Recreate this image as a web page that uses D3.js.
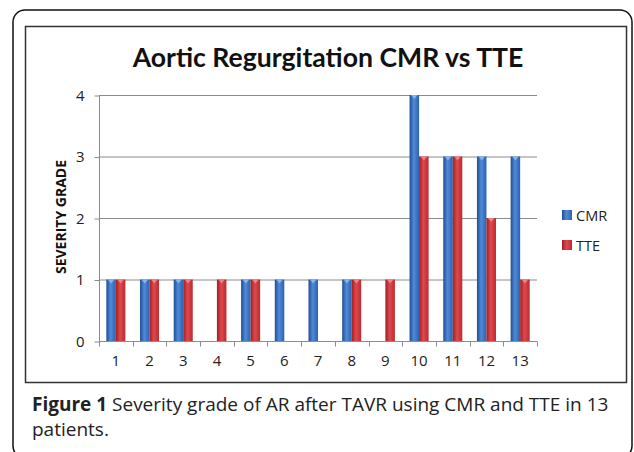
<!DOCTYPE html>
<html><head><meta charset="utf-8">
<script src="https://cdn.jsdelivr.net/npm/d3@7"></script>
<style>body{margin:0;background:#fff}svg{display:block}</style>
</head><body>
<svg id="c" width="634" height="452"></svg>
<script>
const categories = ["1","2","3","4","5","6","7","8","9","10","11","12","13"];
const seriesNames = ["CMR","TTE"];
const cmrValues = [1,1,1,0,1,1,1,1,0,4,3,3,3];
const tteValues = [1,1,1,1,1,0,0,1,1,3,3,2,1];
const yTicks = [0,1,2,3,4];
const titleText = "Aortic Regurgitation CMR vs TTE";
const yTitle = "SEVERITY GRADE";

const svg = d3.select("#c");
const defs = svg.append("defs");
const colors = {CMR:["#1f4f94","#4f8ad8","#2b62b0"], TTE:["#9e1f24","#e0484c","#b92c31"]};
seriesNames.forEach(s=>{
  const g = defs.append("linearGradient").attr("id","g"+s).attr("x1","0").attr("x2","1").attr("y1","0").attr("y2","0");
  g.append("stop").attr("offset","0%").attr("stop-color",colors[s][0]);
  g.append("stop").attr("offset","45%").attr("stop-color",colors[s][1]);
  g.append("stop").attr("offset","100%").attr("stop-color",colors[s][2]);
});

// frames
svg.append("rect").attr("x",13).attr("y",10).attr("width",619).attr("height",448).attr("rx",12)
  .attr("fill","none").attr("stroke","#111").attr("stroke-width",1.5);
svg.append("rect").attr("x",25.5).attr("y",26.5).attr("width",601).attr("height",356)
  .attr("fill","#fff").attr("stroke","#333").attr("stroke-width",1.5);

svg.append("text").attr("x",328).attr("y",67).attr("text-anchor","middle")
  .attr("font-family","Lato, 'Open Sans', sans-serif").attr("font-weight","bold").attr("font-size",26.6)
  .attr("fill","#111").text(titleText);

const x = d3.scaleBand().domain(categories).range([99,537]).paddingInner(0).paddingOuter(0);
const x1 = d3.scaleBand().domain(seriesNames).range([0,x.bandwidth()]).paddingInner(0).paddingOuter(0.77);
const y = d3.scaleLinear().domain([0,4]).range([341,95]);

// gridlines
svg.append("g").selectAll("line").data(yTicks.filter(d=>d>0)).join("line")
  .attr("x1",99).attr("x2",537).attr("y1",d=>y(d)+0.5).attr("y2",d=>y(d)+0.5)
  .attr("stroke","#8c8c8c").attr("stroke-width",1);

// y axis
const yAxis = d3.axisLeft(y).tickValues(yTicks).tickSize(5).tickPadding(10).tickFormat(d3.format("d"));
const ya = svg.append("g").attr("transform","translate(99.5,0.5)").call(yAxis);
ya.select(".domain").attr("stroke","#8c8c8c").attr("d","M0,"+y(4)+"V"+y(0));
ya.selectAll(".tick line").attr("stroke","#8c8c8c");
ya.selectAll(".tick text").attr("font-family","'Open Sans', sans-serif").attr("font-size",15).attr("fill","#222");

// x axis
const xa = svg.append("g").attr("transform","translate(0,"+(y(0)+0.5)+")")
  .call(d3.axisBottom(x).tickSize(0).tickPadding(14));
xa.select(".domain").attr("stroke","#8c8c8c").attr("d","M99,0H537");
xa.selectAll(".tick text").attr("font-family","'Open Sans', sans-serif").attr("font-size",15).attr("fill","#222");
xa.append("g").selectAll("line").data(categories.concat(["end"])).join("line")
  .attr("x1",(d,i)=>Math.round(i<categories.length?x(d):x.range()[1])+0.5)
  .attr("x2",(d,i)=>Math.round(i<categories.length?x(d):x.range()[1])+0.5)
  .attr("y1",0).attr("y2",5).attr("stroke","#8c8c8c");

// bars
const rows = categories.map((c,i)=>({cat:c, CMR:cmrValues[i], TTE:tteValues[i]}));
const grp = svg.append("g").selectAll("g").data(rows).join("g").attr("transform",d=>"translate("+x(d.cat)+",0)");
const bars = grp.selectAll("g").data(d=>seriesNames.map(s=>({s, v:d[s]})).filter(e=>e.v>0)).join("g");
bars.append("rect").attr("x",d=>x1(d.s)).attr("width",x1.bandwidth())
  .attr("y",d=>y(d.v)).attr("height",d=>y(0)-y(d.v)).attr("fill",d=>"url(#g"+d.s+")");
bars.append("path").attr("d",d=>{
  const x0=x1(d.s), w=x1.bandwidth(), t=y(d.v);
  return "M"+(x0+1.5)+","+t+"L"+(x0+w-1.5)+","+t+"L"+(x0+w/2)+","+(t+4)+"Z";
}).attr("fill",d=>d.s==="CMR"?"#8fb8ee":"#f08a8c").attr("opacity",0.9);

// legend
const leg = svg.append("g").selectAll("g").data(seriesNames).join("g")
  .attr("transform",(d,i)=>"translate(562,"+(210+i*30)+")");
leg.append("rect").attr("width",10).attr("height",10).attr("fill",d=>"url(#g"+d+")");
leg.append("text").attr("x",14).attr("y",10.5).attr("font-family","'Open Sans', sans-serif")
  .attr("font-size",14.5).attr("fill","#222").text(d=>d);

// y title
svg.append("text").attr("transform","translate(66,217) rotate(-90)").attr("text-anchor","middle")
  .attr("font-family","'Open Sans', sans-serif").attr("font-weight","bold").attr("font-size",14)
  .attr("fill","#111").text(yTitle);

// caption
const cap = svg.append("text").attr("x",32).attr("y",411).attr("font-family","'Open Sans', sans-serif")
  .attr("font-size",19).attr("fill","#222");
cap.append("tspan").attr("font-weight","bold").text("Figure 1");
cap.append("tspan").text(" Severity grade of AR after TAVR using CMR and TTE in 13");
svg.append("text").attr("x",32).attr("y",436).attr("font-family","'Open Sans', sans-serif")
  .attr("font-size",19).attr("fill","#222").text("patients.");
</script>
</body></html>
